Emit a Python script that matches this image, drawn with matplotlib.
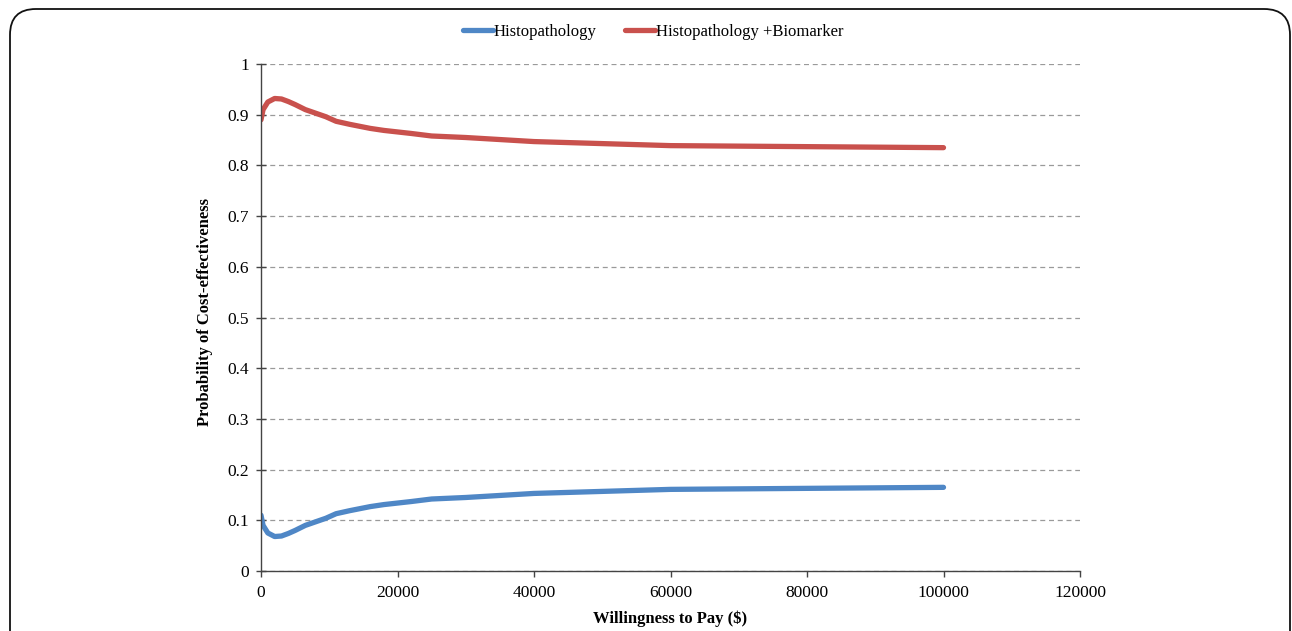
import matplotlib
matplotlib.use("Agg")
import matplotlib.pyplot as plt
from matplotlib.patches import FancyBboxPatch

wtp = [0, 300, 1000, 2000, 3000, 4000, 5000, 6500, 8000, 9500, 11000, 13000,
       16000, 18000, 20000, 22000, 25000, 30000, 35000, 40000, 50000, 60000,
       70000, 80000, 90000, 100000]
histo = [0.110, 0.090, 0.075, 0.068, 0.069, 0.074, 0.080, 0.090, 0.097, 0.104,
         0.113, 0.119, 0.127, 0.131, 0.134, 0.137, 0.142, 0.145, 0.149, 0.153,
         0.157, 0.161, 0.162, 0.163, 0.164, 0.165]
histo_bio = [0.890, 0.910, 0.925, 0.932, 0.931, 0.926, 0.920, 0.910, 0.903, 0.896,
             0.887, 0.881, 0.873, 0.869, 0.866, 0.863, 0.858, 0.855, 0.851, 0.847,
             0.843, 0.839, 0.838, 0.837, 0.836, 0.835]
xticks = [0, 20000, 40000, 60000, 80000, 100000, 120000]
yticks = [0, 0.1, 0.2, 0.3, 0.4, 0.5, 0.6, 0.7, 0.8, 0.9, 1]
ytick_labels = ["0", "0.1", "0.2", "0.3", "0.4", "0.5", "0.6", "0.7", "0.8", "0.9", "1"]

plt.rcParams['font.family'] = ['Liberation Serif', 'DejaVu Serif']

fig = plt.figure(figsize=(12.92, 6.31), dpi=100)
border = FancyBboxPatch((10/1292, -0.2), 1280/1292, 1.2 - 9/631,
                        boxstyle="round,pad=0,rounding_size=0.02",
                        transform=fig.transFigure, fill=False,
                        edgecolor='#111111', linewidth=1.3, mutation_aspect=2.05)
fig.patches.append(border)

ax = fig.add_axes([261/1292, 1 - 571/631, (1080 - 261)/1292, (571 - 64)/631])
ax.plot(wtp, histo, color='#4f87c6', lw=3.8, label='Histopathology',
        solid_capstyle='round', solid_joinstyle='round')
ax.plot(wtp, histo_bio, color='#c9514d', lw=3.8, label='Histopathology +Biomarker',
        solid_capstyle='round', solid_joinstyle='round')

ax.set_xlim(0, 120000)
ax.set_ylim(0, 1)
ax.set_xticks(xticks)
ax.set_xticklabels([str(v) for v in xticks])
ax.set_yticks(yticks)
ax.set_yticklabels(ytick_labels)
ax.yaxis.grid(True, linestyle=(0, (4, 3)), color='#9a9a9a', linewidth=0.9)
ax.set_axisbelow(True)
for s in ['top', 'right']:
    ax.spines[s].set_visible(False)
for s in ['left', 'bottom']:
    ax.spines[s].set_color('#444444')
    ax.spines[s].set_linewidth(1.0)
ax.tick_params(axis='y', direction='inout', length=7, width=1.0, color='#444444',
               labelsize=12.5, pad=5)
ax.tick_params(axis='x', direction='out', length=4, width=1.0, color='#444444',
               labelsize=12.5, pad=6)
ax.set_ylabel('Probability of Cost-effectiveness', fontsize=12, fontweight='bold')
ax.yaxis.set_label_coords((213 - 261) / 819, 0.51)
ax.set_xlabel('Willingness to Pay ($)', fontsize=12, fontweight='bold')
ax.xaxis.set_label_coords(0.5, (571 - 619) / 507)
ax.xaxis.label.set_va('center')

leg = ax.legend(loc='center', bbox_to_anchor=(0.479, (571 - 32) / 507), ncol=2, frameon=False,
                fontsize=12, handlelength=1.8, handletextpad=0.05, columnspacing=1.7)
for l in leg.get_lines():
    l.set_solid_capstyle('round')

fig.savefig('out.png', dpi=100)
